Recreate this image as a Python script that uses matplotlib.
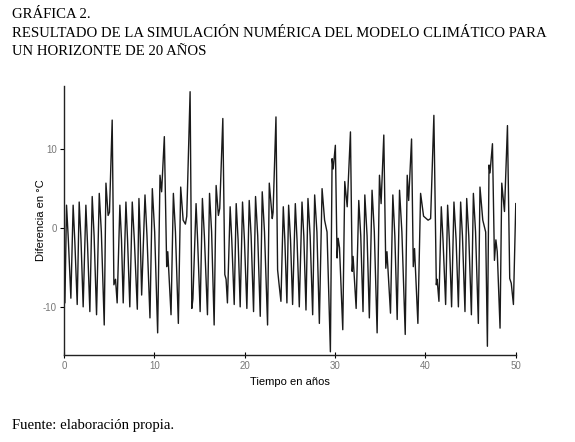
import matplotlib.pyplot as plt

plt.rcParams["axes.unicode_minus"] = False

# puntos (tiempo en anios, diferencia en grados C)
tiempo = [
    0.00, 0.12, 0.30, 0.50, 0.78, 1.03, 1.22, 1.48, 1.70, 1.90,
    2.14, 2.44, 2.62, 2.88, 3.14, 3.35, 3.62, 3.92, 4.15, 4.47,
    4.66, 4.90, 5.05, 5.35, 5.54, 5.72, 5.90, 6.20, 6.38, 6.57,
    6.87, 7.05, 7.30, 7.57, 7.80, 8.13, 8.31, 8.45, 8.61, 8.98,
    9.20, 9.53, 9.79, 10.05, 10.38, 10.64, 10.82, 11.12, 11.38, 11.50,
    11.86, 12.12, 12.35, 12.67, 12.93, 13.20, 13.45, 13.60, 13.97, 14.16,
    14.28, 14.63, 14.80, 15.08, 15.33, 15.55, 15.89, 16.12, 16.35, 16.63,
    16.85, 17.10, 17.25, 17.59, 17.81, 17.95, 18.10, 18.40, 18.58, 18.85,
    19.07, 19.28, 19.51, 19.77, 19.98, 20.25, 20.51, 20.72, 20.99, 21.21,
    21.45, 21.73, 21.95, 22.20, 22.54, 22.73, 23.06, 23.15, 23.47, 23.65,
    23.80, 24.02, 24.28, 24.45, 24.68, 24.87, 25.08, 25.31, 25.61, 25.80,
    26.05, 26.35, 26.55, 26.79, 27.01, 27.25, 27.53, 27.75, 28.00, 28.27,
    28.57, 28.85, 29.12, 29.49, 29.68, 29.80, 30.04, 30.23, 30.35, 30.50,
    30.86, 31.08, 31.35, 31.71, 31.90, 32.00, 32.34, 32.63, 32.85, 33.10,
    33.30, 33.55, 33.80, 34.10, 34.35, 34.66, 34.92, 35.10, 35.40, 35.62,
    35.75, 36.14, 36.40, 36.62, 36.88, 37.14, 37.40, 37.77, 37.99, 38.15,
    38.47, 38.66, 38.80, 39.17, 39.47, 39.80, 40.30, 40.58, 40.94, 41.21,
    41.30, 41.50, 41.76, 41.95, 42.24, 42.46, 42.65, 42.90, 43.16, 43.40,
    43.65, 43.90, 44.10, 44.38, 44.57, 44.80, 45.09, 45.31, 45.55, 45.86,
    46.04, 46.35, 46.67, 46.86, 47.04, 47.15, 47.42, 47.64, 47.80, 47.95,
    48.26, 48.45, 48.75, 49.08, 49.33, 49.50, 49.74, 50.00,
]
diferencia = [
    -5.5, -9.5, 2.9, -1.5, -8.9, 2.9, -1.8, -9.7, 3.3, -1.5,
    -10.0, 2.9, -2.0, -10.6, 4.0, -1.0, -11.0, 4.4, -0.5, -12.3,
    5.7, 1.6, 2.0, 13.7, -7.2, -6.5, -9.5, 2.9, -1.5, -9.5,
    3.3, -1.5, -10.0, 3.3, -1.5, -10.3, 3.75, -1.0, -8.5, 4.2,
    -1.0, -11.4, 5.0, -0.5, -13.3, 6.7, 4.6, 11.6, -4.9, -3.0,
    -11.0, 4.4, -0.5, -12.1, 5.2, 1.0, 0.5, 1.5, 17.3, -10.2,
    -9.0, 3.1, -1.5, -10.6, 3.75, -1.0, -11.0, 4.4, -0.5, -12.3,
    5.4, 1.6, 2.5, 13.9, -5.9, -6.5, -9.5, 2.7, -1.5, -9.7,
    3.1, -1.5, -10.0, 3.3, -1.5, -10.2, 3.5, -1.0, -10.6, 4.0,
    -1.0, -11.2, 4.6, -0.5, -12.3, 5.7, 1.2, 2.0, 14.1, -5.3,
    -7.0, -9.3, 2.7, -1.5, -9.5, 2.9, -1.5, -9.7, 3.1, -1.5,
    -10.0, 3.3, -1.0, -10.4, 3.75, -1.0, -11.0, 4.2, -0.5, -12.1,
    5.0, 1.0, -0.5, -15.7, 8.8, 7.5, 10.5, -3.8, -1.3, -2.5,
    -12.9, 5.9, 2.7, 12.2, -5.5, -3.6, -10.2, 3.5, -1.0, -10.6,
    4.2, -1.0, -11.4, 4.8, -0.5, -13.3, 6.7, 3.1, 11.8, -5.1,
    -3.0, -10.8, 4.2, -1.0, -11.6, 4.8, -0.5, -13.5, 6.7, 3.5,
    11.3, -4.9, -2.6, -12.1, 4.4, 1.5, 1.0, 1.2, 14.3, -7.2,
    -6.5, -9.3, 2.7, -1.5, -9.7, 2.9, -1.5, -10.0, 3.3, -1.5,
    -10.0, 3.3, -1.0, -10.6, 3.75, -1.0, -11.0, 4.4, -0.5, -12.1,
    5.2, 1.0, -0.5, -15.0, 8.0, 7.0, 10.7, -4.1, -1.5, -3.0,
    -12.7, 5.7, 2.1, 13.0, -6.4, -7.0, -9.7, 3.1,
]
x_ticks = [0, 10, 20, 30, 40, 50]
y_ticks = [-10, 0, 10]

fig = plt.figure(figsize=(5.75, 4.42), dpi=100)
ax = fig.add_axes([0.111, 0.197, 0.786, 0.608])
ax.plot(tiempo, diferencia, color="#1a1a1a", lw=1.0)

ax.set_xlim(0, 50)
ax.set_ylim(-16.1, 18)
ax.set_xticks(x_ticks)
ax.set_yticks(y_ticks)
for s in ["top", "right"]:
    ax.spines[s].set_visible(False)
for s in ["left", "bottom"]:
    ax.spines[s].set_linewidth(1.0)
    ax.spines[s].set_color("#222222")
ax.tick_params(axis="x", direction="inout", length=5, labelsize=7,
               labelcolor="#777777", pad=2)
ax.tick_params(axis="y", direction="out", length=3, labelsize=7,
               labelcolor="#777777", pad=2)
for lab in ax.get_xticklabels() + ax.get_yticklabels():
    lab.set_family("Liberation Sans")

ax.set_xlabel("Tiempo en años", family="Liberation Sans", fontsize=8, labelpad=4)
ax.set_ylabel("Diferencia en °C", family="Liberation Sans", fontsize=8, labelpad=-2)

serif = "Liberation Serif"
fig.text(0.021, 0.968, "GRÁFICA 2.", family=serif, fontsize=10.6, va="center")
fig.text(0.021, 0.925, "RESULTADO DE LA SIMULACIÓN NUMÉRICA DEL MODELO CLIMÁTICO PARA",
         family=serif, fontsize=10.6, va="center")
fig.text(0.021, 0.884, "UN HORIZONTE DE 20 AÑOS", family=serif, fontsize=10.6, va="center")
fig.text(0.021, 0.038, "Fuente: elaboración propia.", family=serif, fontsize=10.6, va="center")

fig.savefig("out.png", dpi=100)
